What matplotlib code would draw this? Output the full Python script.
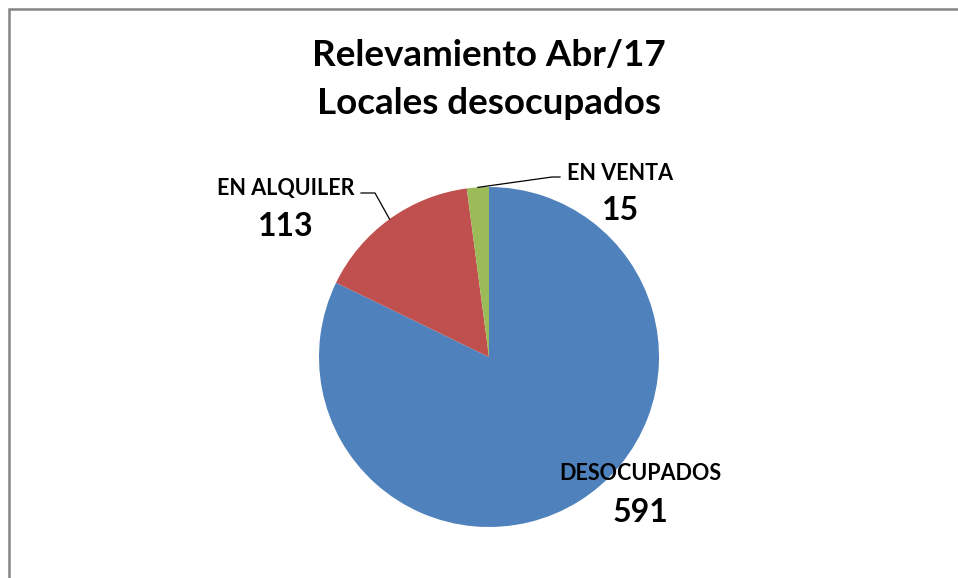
import numpy as np
import matplotlib
matplotlib.use("Agg")
import matplotlib.pyplot as plt
from matplotlib.patches import Rectangle
from matplotlib.lines import Line2D

# Data
categories = ["DESOCUPADOS", "EN ALQUILER", "EN VENTA"]
values = [591, 113, 15]
colors = ["#4F81BD", "#C0504D", "#9BBB59"]
title_lines = ["Relevamiento Abr/17", "Locales desocupados"]

W, H = 958, 578
plt.rcParams['font.family'] = ['Lato', 'DejaVu Sans']

fig = plt.figure(figsize=(W / 100, H / 100), dpi=100)
fig.patch.set_facecolor("white")

def px(x, y):
    # pixel (top-left origin) -> figure fraction
    return x / W, 1 - y / H

# chart frame (runs off the right / bottom edge)
fig.patches.append(Rectangle(px(9, 600), (W + 20) / W, (600 - 9) / H,
                             transform=fig.transFigure, fill=False,
                             edgecolor="#858585", linewidth=1.8))

# pie axes: centre (489, 357), radius 170 px
cx, cy, r = 489, 357, 170
ax = fig.add_axes([(cx - r) / W, (H - cy - r) / H, 2 * r / W, 2 * r / H])
wedges, _ = ax.pie(values, colors=colors, startangle=90, counterclock=False,
                   radius=1.0, wedgeprops=dict(linewidth=0))
ax.set_xlim(-1, 1)
ax.set_ylim(-1, 1)
ax.set_aspect("equal")
ax.axis("off")

# title
fig.text(*px(489, 56), title_lines[0], ha="center", va="center",
         fontsize=26.5, fontweight="bold")
fig.text(*px(489, 104), title_lines[1], ha="center", va="center",
         fontsize=26.5, fontweight="bold")

# data labels (pixel positions of label centres)
label_pos = {
    "DESOCUPADOS": (640, 473, 640, 513),
    "EN ALQUILER": (286, 188, 286, 226),
    "EN VENTA": (620, 173, 620, 211),
}
for cat, val in zip(categories, values):
    lx, ly, vx, vy = label_pos[cat]
    fig.text(*px(lx, ly), cat, ha="center", va="center",
             fontsize=15.5, fontweight="bold")
    fig.text(*px(vx, vy), str(val), ha="center", va="center",
             fontsize=23, fontweight="bold")

# leader lines from wedge mid-points
def wedge_edge(w):
    ang = np.deg2rad((w.theta1 + w.theta2) / 2)
    return cx + r * np.cos(ang), cy - r * np.sin(ang)

ex, ey = wedge_edge(wedges[1])
pts = [(ex, ey), (375, 193), (361, 193)]
xs, ys = zip(*[px(x, y) for x, y in pts])
fig.lines.append(Line2D(xs, ys, transform=fig.transFigure, color="black", linewidth=0.9))

ex, ey = wedge_edge(wedges[2])
pts = [(ex, ey), (552, 177), (560, 177)]
xs, ys = zip(*[px(x, y) for x, y in pts])
fig.lines.append(Line2D(xs, ys, transform=fig.transFigure, color="black", linewidth=0.9))

fig.savefig("out.png", dpi=100, facecolor="white")
